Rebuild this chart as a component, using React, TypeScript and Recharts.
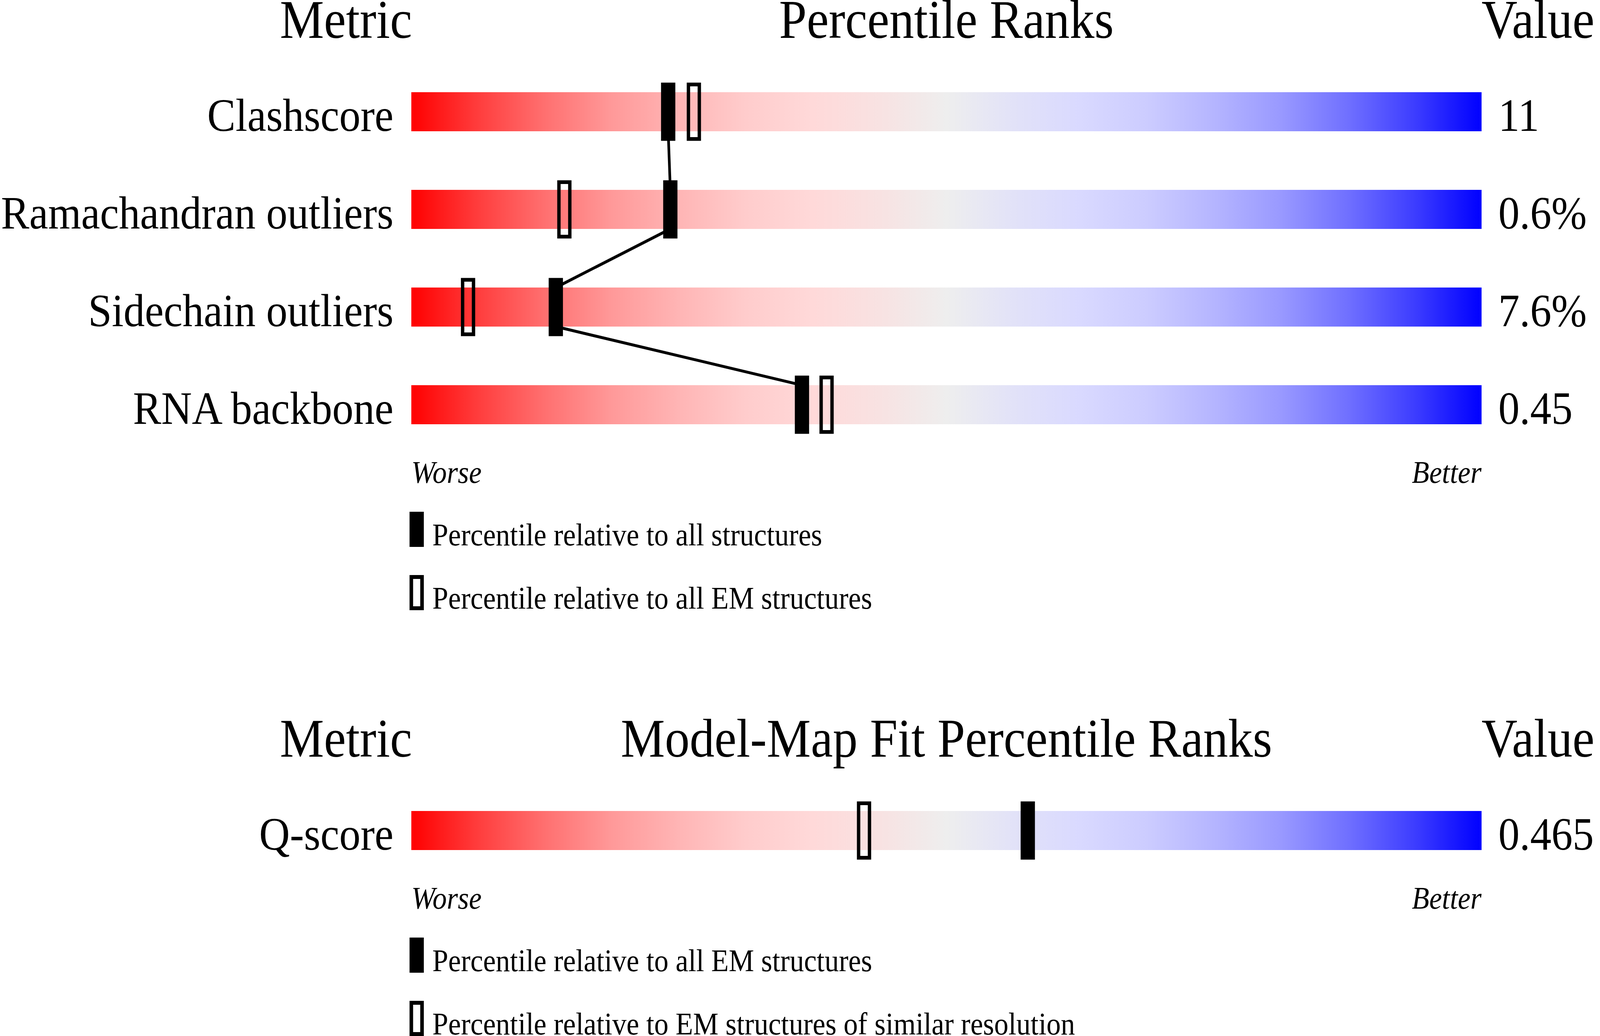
import React from "react";
import { ComposedChart, XAxis, YAxis, Scatter, ReferenceArea, Legend } from "recharts";

// --- data ---
const metrics = ["Clashscore", "Ramachandran outliers", "Sidechain outliers", "RNA backbone"];
const pctAll = [24.0, 24.2, 13.5, 36.5];
const pctEM = [26.4, 14.3, 5.3, 38.8];
const metricValues = ["11", "0.6%", "7.6%", "0.45"];
const legendGeometry = ["Percentile relative to all structures", "Percentile relative to all EM structures"];

const fitMetrics = ["Q-score"];
const fitPctAllEM = [57.6];
const fitPctSimilar = [42.3];
const fitValues = ["0.465"];
const legendFit = [
  "Percentile relative to all EM structures",
  "Percentile relative to EM structures of similar resolution",
];

const headers = ["Metric", "Value"];
const scaleEnds = ["Worse", "Better"];

// --- layout ---
const W = 4485;
const H = 2652;
const LEFT = 1153;
const RIGHT = 332;
const PLOT_TOP = 161;
const ROW = 250;
const HALF = 0.2; // half track height in row units
const FONT = "'Liberation Serif', 'Times New Roman', serif";

const stops = [
  ["0", "#ff0000"],
  ["0.0625", "#ff3d3d"],
  ["0.125", "#ff7070"],
  ["0.1875", "#ff9999"],
  ["0.25", "#ffb5b5"],
  ["0.3125", "#ffcccc"],
  ["0.375", "#ffd9d9"],
  ["0.4375", "#f8e2e2"],
  ["0.5", "#eeeeee"],
  ["0.5625", "#e2e2f8"],
  ["0.625", "#d9d9ff"],
  ["0.6875", "#ccccff"],
  ["0.75", "#b5b5ff"],
  ["0.8125", "#9999ff"],
  ["0.875", "#7070ff"],
  ["0.9375", "#3d3dff"],
  ["1", "#0000ff"],
];

const solidMarker = (p: any) => (
  <rect x={p.cx - 20} y={p.cy - 74.5} width={40} height={149} fill="#000" />
);
const openMarker = (p: any) => (
  <rect x={p.cx - 15.25} y={p.cy - 69.75} width={30.5} height={139.5} fill="none" stroke="#000" strokeWidth={9.5} />
);
const noMarker = () => <g />;

function Panel({ id, top, height, title, names, best, other, values, legendNames }: any) {
  const n = names.length;
  const rows = names.map((name: string, i: number) => ({ i, name, best: best[i], other: other[i], value: values[i] }));
  const bestPts = rows.map((r: any) => ({ x: r.best, y: r.i }));
  const otherPts = rows.map((r: any) => ({ x: r.other, y: r.i }));
  const linkPts = rows.flatMap((r: any) => [
    { x: r.best, y: r.i - HALF },
    { x: r.best, y: r.i + HALF },
  ]);
  const xAxisH = 100;
  const bottom = height - PLOT_TOP - n * ROW - xAxisH;
  const lastCenter = PLOT_TOP + ROW / 2 + (n - 1) * ROW;
  const titleY = PLOT_TOP + ROW / 2 - 189;
  const mid = LEFT + (W - LEFT - RIGHT) / 2;

  const leftTick = (p: any) => (
    <text x={p.x - 50} y={p.y + 49} textAnchor="end" fontSize={119} fontFamily={FONT} fill="#000">
      {names[p.payload.value]}
    </text>
  );
  const rightTick = (p: any) => (
    <text x={p.x + 47} y={p.y + 49} textAnchor="start" fontSize={119} fontFamily={FONT} fill="#000">
      {values[p.payload.value]}
    </text>
  );
  const bottomTick = (p: any) => (
    <text
      x={p.x}
      y={p.y + 75}
      textAnchor={p.payload.value === 0 ? "start" : "end"}
      fontSize={80}
      fontStyle="italic"
      fontFamily={FONT}
      fill="#000"
    >
      {p.payload.value === 0 ? scaleEnds[0] : scaleEnds[1]}
    </text>
  );

  const renderLegend = (props: any) => {
    const shown = (props.payload || []).map((e: any) => e.value);
    const items = legendNames.filter((name: string) => shown.includes(name));
    return (
      <svg width={2300} height={300} style={{ display: "block", overflow: "visible" }}>
        {items.map((name: string, k: number) => (
          <g key={name} transform={`translate(0, ${k * 162})`}>
            {name === legendNames[0] ? (
              <rect x={0} y={0} width={40} height={90} fill="#000" />
            ) : (
              <rect x={5} y={5} width={30} height={80} fill="none" stroke="#000" strokeWidth={10} />
            )}
            <text x={64} y={86} fontSize={80} fontFamily={FONT} fill="#000">
              {name}
            </text>
          </g>
        ))}
      </svg>
    );
  };

  return (
    <div style={{ position: "absolute", left: 0, top }}>
      <ComposedChart width={W} height={height} margin={{ top: PLOT_TOP, right: 0, bottom, left: 0 }}>
        <defs>
          <linearGradient id={id} x1="0" y1="0" x2="1" y2="0">
            {stops.map(([o, c]) => (
              <stop key={o} offset={o} stopColor={c} />
            ))}
          </linearGradient>
        </defs>
        <XAxis
          type="number"
          dataKey="x"
          domain={[0, 100]}
          ticks={[0, 100]}
          allowDataOverflow
          height={xAxisH}
          axisLine={false}
          tickLine={false}
          tickSize={0}
          tickMargin={0}
          interval={0}
          tick={bottomTick}
        />
        <YAxis
          yAxisId="left"
          type="number"
          dataKey="y"
          domain={[-0.5, n - 0.5]}
          ticks={rows.map((r: any) => r.i)}
          reversed
          allowDataOverflow
          width={LEFT}
          axisLine={false}
          tickLine={false}
          tickSize={0}
          tickMargin={0}
          interval={0}
          tick={leftTick}
        />
        <YAxis
          yAxisId="right"
          orientation="right"
          type="number"
          dataKey="y"
          domain={[-0.5, n - 0.5]}
          ticks={rows.map((r: any) => r.i)}
          reversed
          allowDataOverflow
          width={RIGHT}
          axisLine={false}
          tickLine={false}
          tickSize={0}
          tickMargin={0}
          interval={0}
          tick={rightTick}
        />
        {rows.map((r: any) => (
          <ReferenceArea
            key={r.name}
            yAxisId="left"
            x1={0}
            x2={100}
            y1={r.i - HALF}
            y2={r.i + HALF}
            fill={`url(#${id})`}
            fillOpacity={1}
            stroke="none"
          />
        ))}
        {n > 1 && (
          <Scatter
            yAxisId="left"
            data={linkPts}
            line={{ stroke: "#000", strokeWidth: 7.5 }}
            lineType="joint"
            shape={noMarker}
            legendType="none"
            isAnimationActive={false}
          />
        )}
        <Scatter
          yAxisId="left"
          name={legendNames[0]}
          data={bestPts}
          fill="#000"
          shape={solidMarker}
          isAnimationActive={false}
        />
        <Scatter
          yAxisId="left"
          name={legendNames[1]}
          data={otherPts}
          fill="#fff"
          shape={openMarker}
          isAnimationActive={false}
        />
        <Legend
          layout="vertical"
          align="center"
          verticalAlign="middle"
          wrapperStyle={{ left: 1148, top: lastCenter + 274, width: 2300, height: 300 }}
          content={renderLegend}
        />
        <g fontFamily={FONT} fontSize={139} fill="#000">
          <text x={LEFT + 2} y={titleY} textAnchor="end">{headers[0]}</text>
          <text x={mid} y={titleY} textAnchor="middle">{title}</text>
          <text x={W - RIGHT} y={titleY} textAnchor="start">{headers[1]}</text>
        </g>
      </ComposedChart>
    </div>
  );
}

export default function App() {
  // the browser caps the viewport width, so stretch the 4485x2652 drawing onto whatever it really has
  const vw = typeof window !== "undefined" ? window.innerWidth : W;
  const vh = typeof window !== "undefined" ? window.innerHeight : H;
  const sx = Math.min(1, vw / W);
  const sy = Math.min(1, vh / H);
  return (
    <div
      style={{
        position: "absolute",
        left: 0,
        top: 0,
        width: W,
        height: H,
        overflow: "hidden",
        background: "#fff",
        transform: `scale(${sx}, ${sy})`,
        transformOrigin: "0 0",
      }}
    >
      <Panel
        id="gradGeometry"
        top={0}
        height={1640}
        title="Percentile Ranks"
        names={metrics}
        best={pctAll}
        other={pctEM}
        values={metricValues}
        legendNames={legendGeometry}
      />
      <Panel
        id="gradFit"
        top={1840}
        height={812}
        title="Model-Map Fit Percentile Ranks"
        names={fitMetrics}
        best={fitPctAllEM}
        other={fitPctSimilar}
        values={fitValues}
        legendNames={legendFit}
      />
    </div>
  );
}
